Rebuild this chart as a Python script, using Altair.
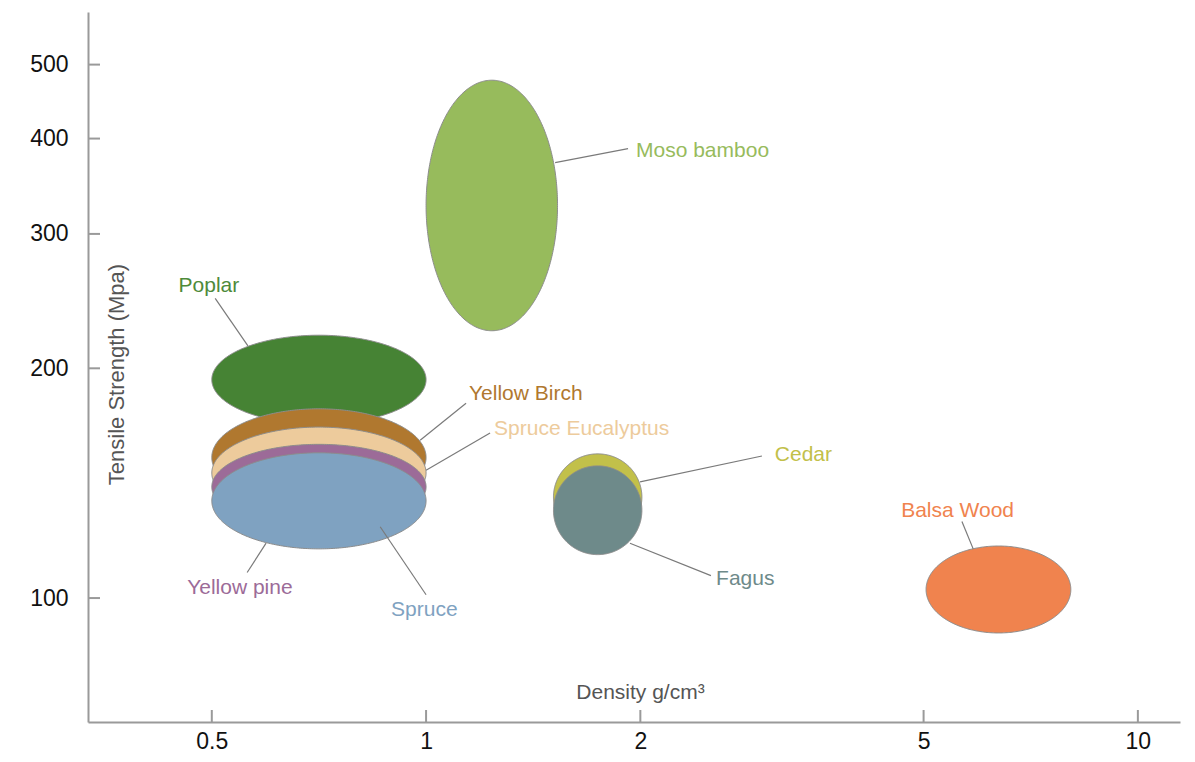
import numpy as np
import pandas as pd
import altair as alt

# ---- data ----
materials = ["Moso bamboo", "Poplar", "Yellow Birch", "Spruce Eucalyptus",
             "Yellow pine", "Spruce", "Cedar", "Fagus", "Balsa Wood"]
density_lo = [1.00, 0.50, 0.50, 0.50, 0.50, 0.50, 1.51, 1.51, 5.04]
density_hi = [1.53, 1.00, 1.00, 1.00, 1.00, 1.00, 2.01, 2.01, 8.05]
strength_lo = [224, 169, 132, 127, 123, 116, 119, 114, 90]
strength_hi = [477, 221, 177, 167.5, 159, 155, 154.5, 149, 117]

# label anchor (left edge, middle) in data units
label_x = [1.972, 0.449, 1.149, 1.246, 0.4617, 0.893, 3.09, 2.555, 4.65]
label_y = [385, 256, 185, 166.5, 103, 96.5, 154, 106, 130]
# leader lines (from, to) in data units
lead_x1 = [1.518, 0.5055, 0.981, 1.000, 0.5606, 0.862, 1.998, 1.934, 5.66]
lead_y1 = [372, 247, 161, 147, 108, 124, 142, 118, 126]
lead_x2 = [1.922, 0.562, 1.138, 1.230, 0.596, 1.000, 2.964, 2.513, 5.87]
lead_y2 = [388, 214, 180, 164.5, 118, 101, 153.5, 107, 116]

x_ticks = [0.5, 1, 2, 5, 10]
y_ticks = [100, 200, 300, 400, 500]

# ---- styles ----
colors = {
    "Moso bamboo": "#97bb5c",
    "Poplar": "#468334",
    "Yellow Birch": "#b0782f",
    "Spruce Eucalyptus": "#edcb9c",
    "Yellow pine": "#9c6b98",
    "Spruce": "#7fa2c1",
    "Cedar": "#c2c04a",
    "Fagus": "#6e8a8a",
    "Balsa Wood": "#f0834e",
}
text_colors = dict(colors)
text_colors["Poplar"] = "#4e8a3a"

W, H = 1092, 710
FONT = "Liberation Sans"
AX = "#9a9a9a"

xscale = alt.Scale(type="log", domain=[0.335, 11.46], nice=False)
yscale = alt.Scale(type="log", domain=[68.8, 586], nice=False)

xaxis = alt.Axis(values=x_ticks, format="~g", grid=False, ticks=False, tickSize=0,
                 domainColor=AX, domainWidth=2, labelFont=FONT, labelFontSize=23,
                 labelColor="#111", labelPadding=8, labelFlush=False,
                 title="Density g/cm³", titleFont=FONT, titleFontSize=21,
                 titleFontWeight="normal", titleColor="#555",
                 titleX=552, titleY=-30, titleAlign="center", titleBaseline="middle")
yaxis = alt.Axis(values=y_ticks, format="~g", grid=False, ticks=False, tickSize=0,
                 domainColor=AX, domainWidth=2, labelFont=FONT, labelFontSize=23,
                 labelColor="#111", labelPadding=20, labelFlush=False,
                 title="Tensile Strength (Mpa)", titleFont=FONT, titleFontSize=22,
                 titleFontWeight="normal", titleColor="#555", titleAngle=270,
                 titleX=28, titleY=362, titleAlign="center", titleBaseline="middle")


def X(field):
    return alt.X(field, type="quantitative", scale=xscale, axis=xaxis)


def Y(field):
    return alt.Y(field, type="quantitative", scale=yscale, axis=yaxis)


# ---- ellipses (built from the ranges, in log space) ----
t = np.linspace(0, np.pi, 181)
layers = []
for i, m in enumerate(materials):
    lx0, lx1 = np.log10(density_lo[i]), np.log10(density_hi[i])
    ly0, ly1 = np.log10(strength_lo[i]), np.log10(strength_hi[i])
    cx, a = (lx0 + lx1) / 2, (lx1 - lx0) / 2
    cy, b = (ly0 + ly1) / 2, (ly1 - ly0) / 2
    df = pd.DataFrame({
        "x": 10 ** (cx + a * np.cos(t)),
        "y": 10 ** (cy + b * np.sin(t)),
        "y2": 10 ** (cy - b * np.sin(t)),
    })
    layers.append(
        alt.Chart(df).mark_area(fill=colors[m], stroke="#8c8c8c", strokeWidth=1,
                                opacity=1, interpolate="linear")
        .encode(x=X("x"), y=Y("y"), y2="y2")
    )

# ---- leader lines ----
lead_df = pd.DataFrame({"material": materials, "x1": lead_x1, "y1": lead_y1,
                        "x2": lead_x2, "y2": lead_y2})
leaders = alt.Chart(lead_df).mark_rule(color="#7a7a7a", strokeWidth=1.2).encode(
    x=X("x1"), y=Y("y1"), x2="x2", y2="y2")

# ---- labels ----
lab_df = pd.DataFrame({"material": materials, "lx": label_x, "ly": label_y})
labels = alt.Chart(lab_df).mark_text(align="left", baseline="middle", font=FONT,
                                     fontSize=21).encode(
    x=X("lx"), y=Y("ly"), text="material:N",
    color=alt.Color("material:N", legend=None,
                    scale=alt.Scale(domain=materials,
                                    range=[text_colors[m] for m in materials])))

# ---- inward ticks ----
xt = alt.Chart(pd.DataFrame({"v": x_ticks})).mark_rule(color=AX, strokeWidth=2).encode(
    x=X("v"), y=alt.value(H), y2=alt.value(H - 12))
yt = alt.Chart(pd.DataFrame({"v": y_ticks})).mark_rule(color=AX, strokeWidth=2).encode(
    y=Y("v"), x=alt.value(0), x2=alt.value(12))

chart = alt.layer(*layers, leaders, labels, xt, yt).properties(
    width=W, height=H,
    autosize=alt.AutoSizeParams(type="none"),
    padding={"left": 80, "top": 4, "right": 7, "bottom": 32},
).configure_view(stroke=None)

chart.save("out.html", embed_options={"renderer": "svg", "actions": False})
